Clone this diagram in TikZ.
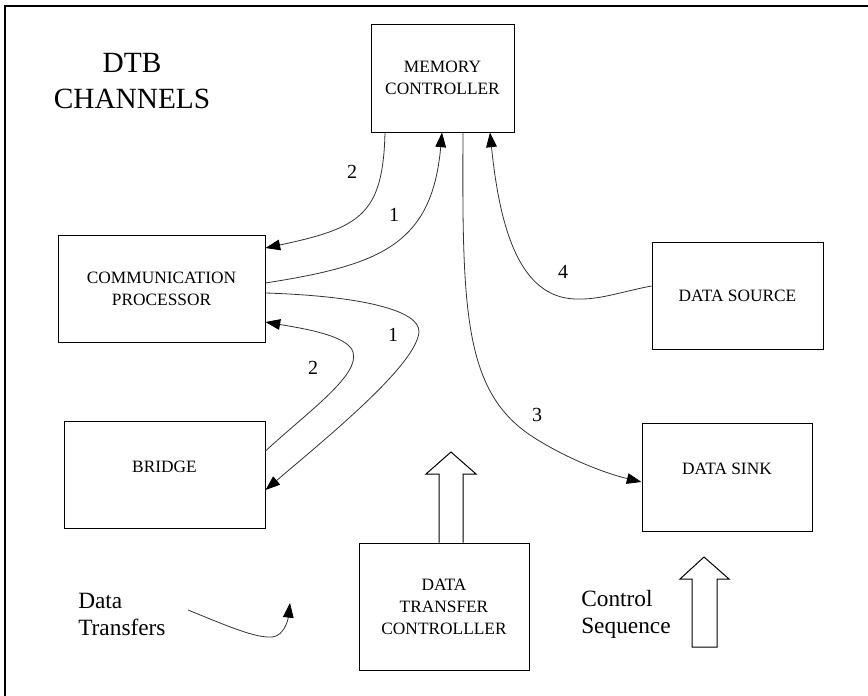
\documentclass[tikz,border=0pt]{standalone}
\usepackage{fontspec}
\setmainfont{Liberation Serif}
\usepackage{tikz}
\usetikzlibrary{arrows.meta}

\begin{document}
\begin{tikzpicture}[x=0.75pt,y=-0.75pt,
  box/.style 2 args={draw, line width=0.75pt, minimum width=#1*0.75pt,
    minimum height=#2*0.75pt, inner sep=0pt, align=center,
    font=\fontsize{13}{16.5}\selectfont},
  flow/.style={draw=black!80, line width=0.6pt},
  arrowed/.style={-{Triangle[length=11pt,width=8pt,color=black]}},
  num/.style={font=\fontsize{15}{18}\selectfont},
  note/.style={align=left, anchor=west, inner sep=0pt,
    font=\fontsize{17.5}{20}\selectfont},
  hollow/.style={draw, line width=0.75pt, fill=white}]
  \useasboundingbox (0,0) rectangle (868,696);
  \draw[line width=1.5pt] (5,696) -- (5,6) -- (868,6);

  \node[align=center, font=\fontsize{22}{27}\selectfont] (title) at (132,81) {DTB\\CHANNELS};

  % units on the bus
  \node[box={143}{108}] (mem) at (442.5,78) {MEMORY\\CONTROLLER};
  \node[box={207}{107}] (comm) at (161.5,288.5) {COMMUNICATION\\PROCESSOR};
  \node[box={201}{107}, text depth=11pt] (bridge) at (164.5,474.5) {BRIDGE};
  \node[box={171}{107}] (src) at (737.5,295.5) {DATA SOURCE};
  \node[box={170}{108}, text depth=12pt] (sink) at (727,477) {DATA SINK};
  \node[box={170}{127}] (dtc) at (444,606.5) {DATA\\TRANSFER\\CONTROLLLER};

  % transfers
  \draw[flow,arrowed] (mem.south -| 385,0) .. controls (383,215) and (360,228) .. (comm.east |- 0,248);
  \draw[flow,arrowed] (comm.east |- 0,283) .. controls (380,265) and (432,245) .. (mem.south -| 442,0);
  \draw[flow,arrowed] (comm.east |- 0,293) .. controls (360,296) and (420,310) .. (419,332)
    .. controls (416,365) and (330,435) .. (bridge.east |- 0,490);
  \draw[flow,arrowed] (bridge.east |- 0,451) .. controls (310,410) and (360,375) .. (353,352)
    .. controls (348,335) and (300,328) .. (comm.east |- 0,322);
  \draw[flow,arrowed] (mem.south -| 463,0) .. controls (462,310) and (464,390) .. (530,435)
    .. controls (560,455) and (600,472) .. (sink.west |- 0,482);
  \draw[flow,arrowed] (src.west |- 0,286) .. controls (620,292) and (600,300) .. (575,299)
    .. controls (520,297) and (500,230) .. (mem.south -| 490,0);

  \node[num] (n2a) at (352,172) {2};
  \node[num] (n1a) at (394,215) {1};
  \node[num] (n1b) at (393,335) {1};
  \node[num] (n2b) at (313,368) {2};
  \node[num] (n4) at (563,272) {4};
  \node[num] (n3) at (537,415) {3};

  % control arrows
  \draw[hollow] (dtc.north -| 439,0) -- (439,474) -- (426,474) -- (451,452)
    -- (476,474) -- (463,474) -- (dtc.north -| 463,0);
  \draw[hollow] (692,647) -- (692,579) -- (680,579) -- (704,557) -- (729,579)
    -- (717,579) -- (717,647) -- cycle;

  % legend
  \node[note] (ldata) at (78,614.5) {Data\\Transfers};
  \coordinate (lstart) at (188,610);
  \coordinate (lend) at (290,603);
  \draw[flow,arrowed] (lstart) .. controls (230,627) and (255,638) .. (272,637)
    .. controls (284,636) and (288,620) .. (lend);
  \node[note] (lctrl) at (581,614.5) {Control\\Sequence};
\end{tikzpicture}
\end{document}
